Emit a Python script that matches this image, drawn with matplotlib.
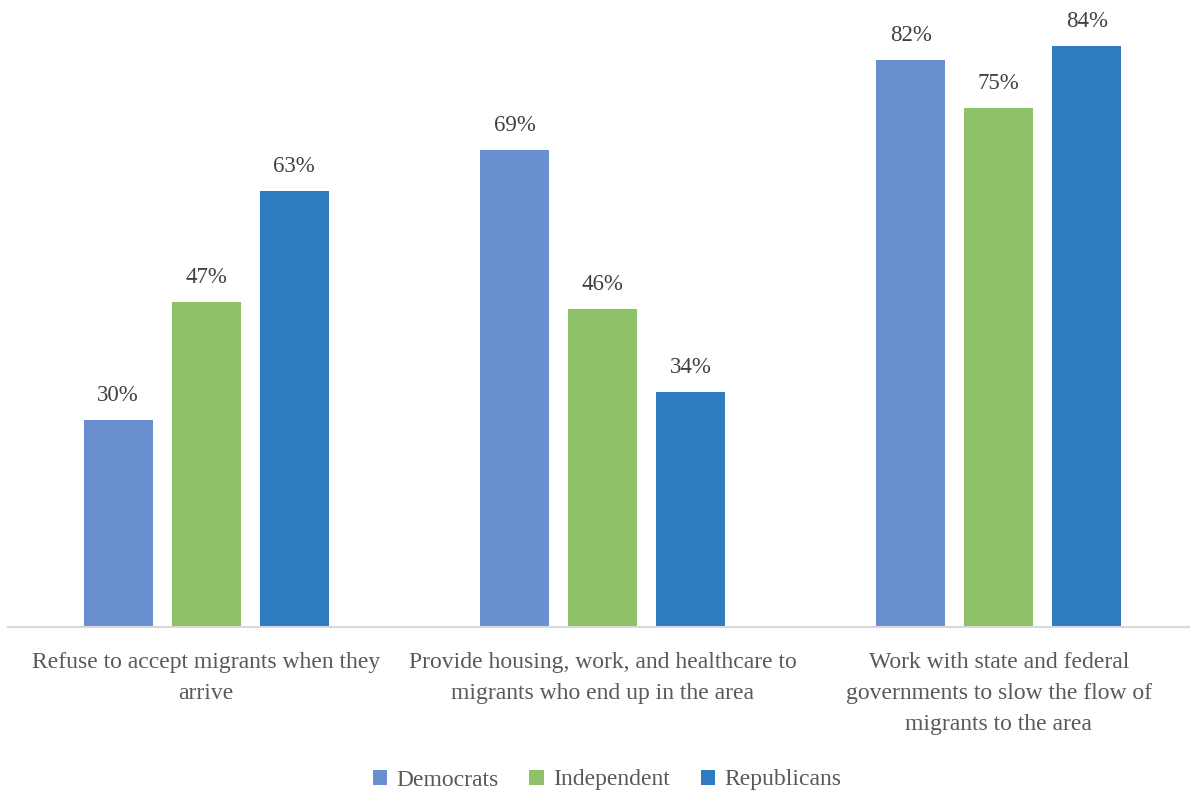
import matplotlib
matplotlib.use("Agg")
import matplotlib.pyplot as plt
import numpy as np

categories = [
    "Refuse to accept migrants when they\narrive",
    "Provide housing, work, and healthcare to\nmigrants who end up in the area",
    "Work with state and federal\ngovernments to slow the flow of\nmigrants to the area",
]
series_names = ["Democrats", "Independent", "Republicans"]
democrats = [30, 69, 82]
independent = [47, 46, 75]
republicans = [63, 34, 84]
colors = ["#6A8FD0", "#8DC26A", "#2F7BC1"]

plt.rcParams["font.family"] = ["Liberation Serif", "DejaVu Serif"]
text_color = "#595959"

W, H = 1190, 793
fig = plt.figure(figsize=(W / 100, H / 100), dpi=100)
ax_left, ax_right = 8, 1197
ax_bottom_px, ax_top_px = 627, 4.5
ax = fig.add_axes([ax_left / W, 1 - ax_bottom_px / H,
                   (ax_right - ax_left) / W, (ax_bottom_px - ax_top_px) / H])

x = np.arange(len(categories))
pitch = 0.222
width = 0.174
values = [democrats, independent, republicans]
for i, (name, vals, c) in enumerate(zip(series_names, values, colors)):
    pos = x + (i - 1) * pitch
    bars = ax.bar(pos, vals, width=width, color=c, label=name, zorder=2)
    for b, v in zip(bars, vals):
        ax.annotate(f"{v}%", (b.get_x() + b.get_width() / 2, v),
                    xytext=(0, 10), textcoords="offset points",
                    ha="center", va="bottom", fontsize=16.5, color="#404040")

ax.set_xlim(-0.5, 2.5)
ax.set_ylim(0, 90)
ax.set_yticks([])
ax.set_xticks(x)
ax.set_xticklabels(categories, fontsize=17, color=text_color, linespacing=1.62)
ax.tick_params(axis="x", length=0, pad=18)
for s in ["top", "right", "left"]:
    ax.spines[s].set_visible(False)
ax.spines["bottom"].set_color("#D9D9D9")
ax.spines["bottom"].set_linewidth(1.5)

leg = fig.legend(loc="center", bbox_to_anchor=((W / 2 + 12) / W, 1 - 780 / H), ncol=3,
                 frameon=False, fontsize=17, handlelength=0.6, handleheight=0.6,
                 handletextpad=0.4, columnspacing=1.3)
for t in leg.get_texts():
    t.set_color(text_color)

fig.savefig("out.png", dpi=100)
